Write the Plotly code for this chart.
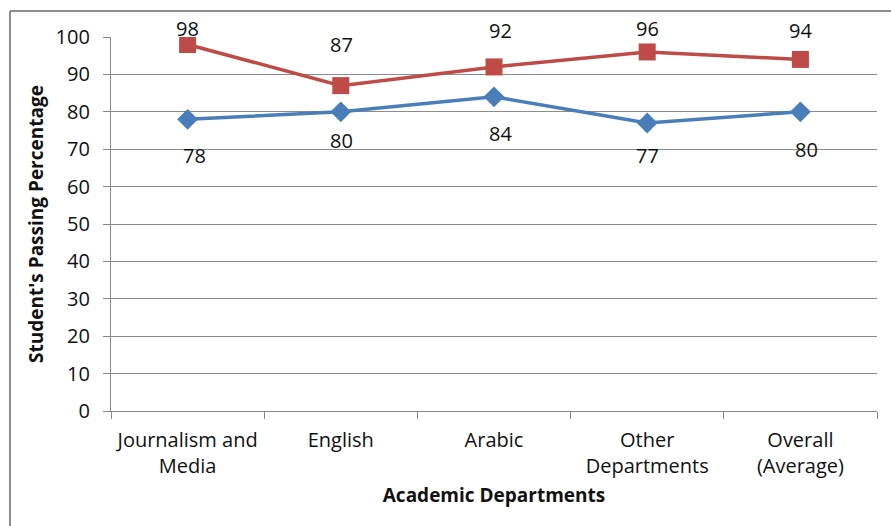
import plotly.graph_objects as go

categories = ["Journalism and<br>Media", "English", "Arabic", "Other<br>Departments", "Overall<br>(Average)"]
series_blue = [78, 80, 84, 77, 80]
series_red = [98, 87, 92, 96, 94]
y_ticks = [0, 10, 20, 30, 40, 50, 60, 70, 80, 90, 100]

# label offsets (pixels) as placed in the reference
red_yshift = [16, 41, 36, 23, 29]
red_xshift = [0, 1, 6, 0, 0]
blue_yshift = [-36, -29, -37, -32, -38]
blue_xshift = [7, 1, 6, 0, 6]

FONT = "Open Sans"
BLUE = "#4A7EBB"
RED = "#BE4B48"

fig = go.Figure()
fig.add_trace(go.Scatter(x=categories, y=series_blue, mode="lines+markers",
                         line=dict(color=BLUE, width=3.5),
                         marker=dict(symbol="diamond", size=16, color=BLUE,
                                     line=dict(color=BLUE, width=0)),
                         showlegend=False))
fig.add_trace(go.Scatter(x=categories, y=series_red, mode="lines+markers",
                         line=dict(color=RED, width=3.5),
                         marker=dict(symbol="square", size=17, color=RED,
                                     line=dict(color=RED, width=0)),
                         showlegend=False))

anns = []
for c, v, dy, dx in zip(categories, series_red, red_yshift, red_xshift):
    anns.append(dict(x=c, y=v, text=str(v), showarrow=False, yshift=dy, xshift=dx,
                     font=dict(family=FONT, size=20, color="#111111")))
for c, v, dy, dx in zip(categories, series_blue, blue_yshift, blue_xshift):
    anns.append(dict(x=c, y=v, text=str(v), showarrow=False, yshift=dy, xshift=dx,
                     font=dict(family=FONT, size=20, color="#111111")))

L, R, T, B = 111, 14, 37, 115
W, H = 891, 526
pw, ph = W - L - R, H - T - B
def px(x):
    return (x - L) / pw
def py(y):
    return (H - B - y) / ph

shapes = [
    dict(type="line", xref="paper", yref="paper", x0=px(10), x1=px(10), y0=py(11), y1=py(530),
         line=dict(color="#8C8C8C", width=2)),
    dict(type="line", xref="paper", yref="paper", x0=px(10), x1=px(895), y0=py(11), y1=py(11),
         line=dict(color="#8C8C8C", width=2)),
]

fig.update_layout(
    width=W, height=H,
    margin=dict(l=L, r=R, t=T, b=B),
    paper_bgcolor="white", plot_bgcolor="white",
    font=dict(family=FONT, size=20, color="#111111"),
    annotations=anns,
    shapes=shapes,
    xaxis=dict(type="category", range=[-0.5, 4.5], tickson="boundaries",
               ticks="outside", ticklen=7, tickcolor="#878787",
               showline=True, linecolor="#878787", linewidth=1.3,
               showgrid=False, tickfont=dict(family=FONT, size=20),
               ticklabelstandoff=11,
               title=dict(text="<b>Academic Departments</b>", standoff=10,
                          font=dict(family=FONT, size=19))),
    yaxis=dict(range=[0, 100], tickvals=y_ticks, ticks="outside", ticklen=7,
               tickcolor="#878787", showline=True, linecolor="#878787", linewidth=1.3,
               showgrid=True, gridcolor="#8C8C8C", gridwidth=1.2, zeroline=False,
               tickfont=dict(family=FONT, size=20), ticklabelstandoff=9,
               title=dict(text="<b>Student's Passing Percentage</b>", standoff=6,
                          font=dict(family=FONT, size=19))),
)

fig.write_html("out.html")
